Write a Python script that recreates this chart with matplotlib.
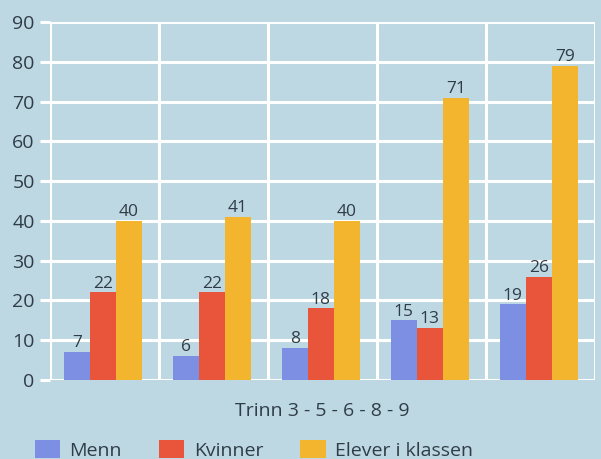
import matplotlib.pyplot as plt
import numpy as np

# Data
trinn = ["3", "5", "6", "8", "9"]
menn = [7, 6, 8, 15, 19]
kvinner = [22, 22, 18, 13, 26]
elever = [40, 41, 40, 71, 79]

series_names = ["Menn", "Kvinner", "Elever i klassen"]
colors = ["#7d8fe2", "#e9553b", "#f4b52e"]
bg = "#bed8e3"
txt = "#2f3d48"

plt.rcParams["font.family"] = ["Open Sans", "DejaVu Sans"]

fig = plt.figure(figsize=(6.01, 4.59), dpi=100, facecolor=bg)
ax = fig.add_axes([50 / 601, 1 - 380 / 459, 545 / 601, 358 / 459])
ax.set_facecolor(bg)

x = np.arange(len(trinn))
w = 0.24
offsets = [-0.255, -0.015, 0.225]

for vals, off, c, name in zip([menn, kvinner, elever], offsets, colors, series_names):
    bars = ax.bar(x + off, vals, width=w, color=c, label=name, zorder=3)
    for b, v in zip(bars, vals):
        ax.text(b.get_x() + b.get_width() / 2, v + 0.2, str(v),
                ha="center", va="bottom", fontsize=12.5, color=txt, zorder=4)

ax.set_xlim(-0.5, len(trinn) - 0.5)
ax.set_ylim(0, 90)
ax.set_yticks(range(0, 91, 10))
ax.set_xticks(np.arange(-0.5, len(trinn), 1.0))
ax.set_xticklabels([])

# Gitterlinjer i hvitt
ax.grid(True, color="white", linewidth=2.2, zorder=1)
for s in ax.spines.values():
    s.set_visible(False)
ax.tick_params(axis="y", colors="white", length=7, width=2.2, labelcolor=txt,
               labelsize=14, pad=4)
ax.tick_params(axis="x", length=0)

ax.set_xlabel("Trinn " + " - ".join(trinn), fontsize=14, color=txt, labelpad=12)

leg = fig.legend(loc="lower left", bbox_to_anchor=(17 / 601, -0.04), ncol=3,
                 frameon=False, fontsize=14, handlelength=1.3, handleheight=1.0,
                 handletextpad=0.5, columnspacing=1.9, labelcolor=txt)

plt.savefig("out.png", dpi=100, facecolor=bg)
plt.close()
